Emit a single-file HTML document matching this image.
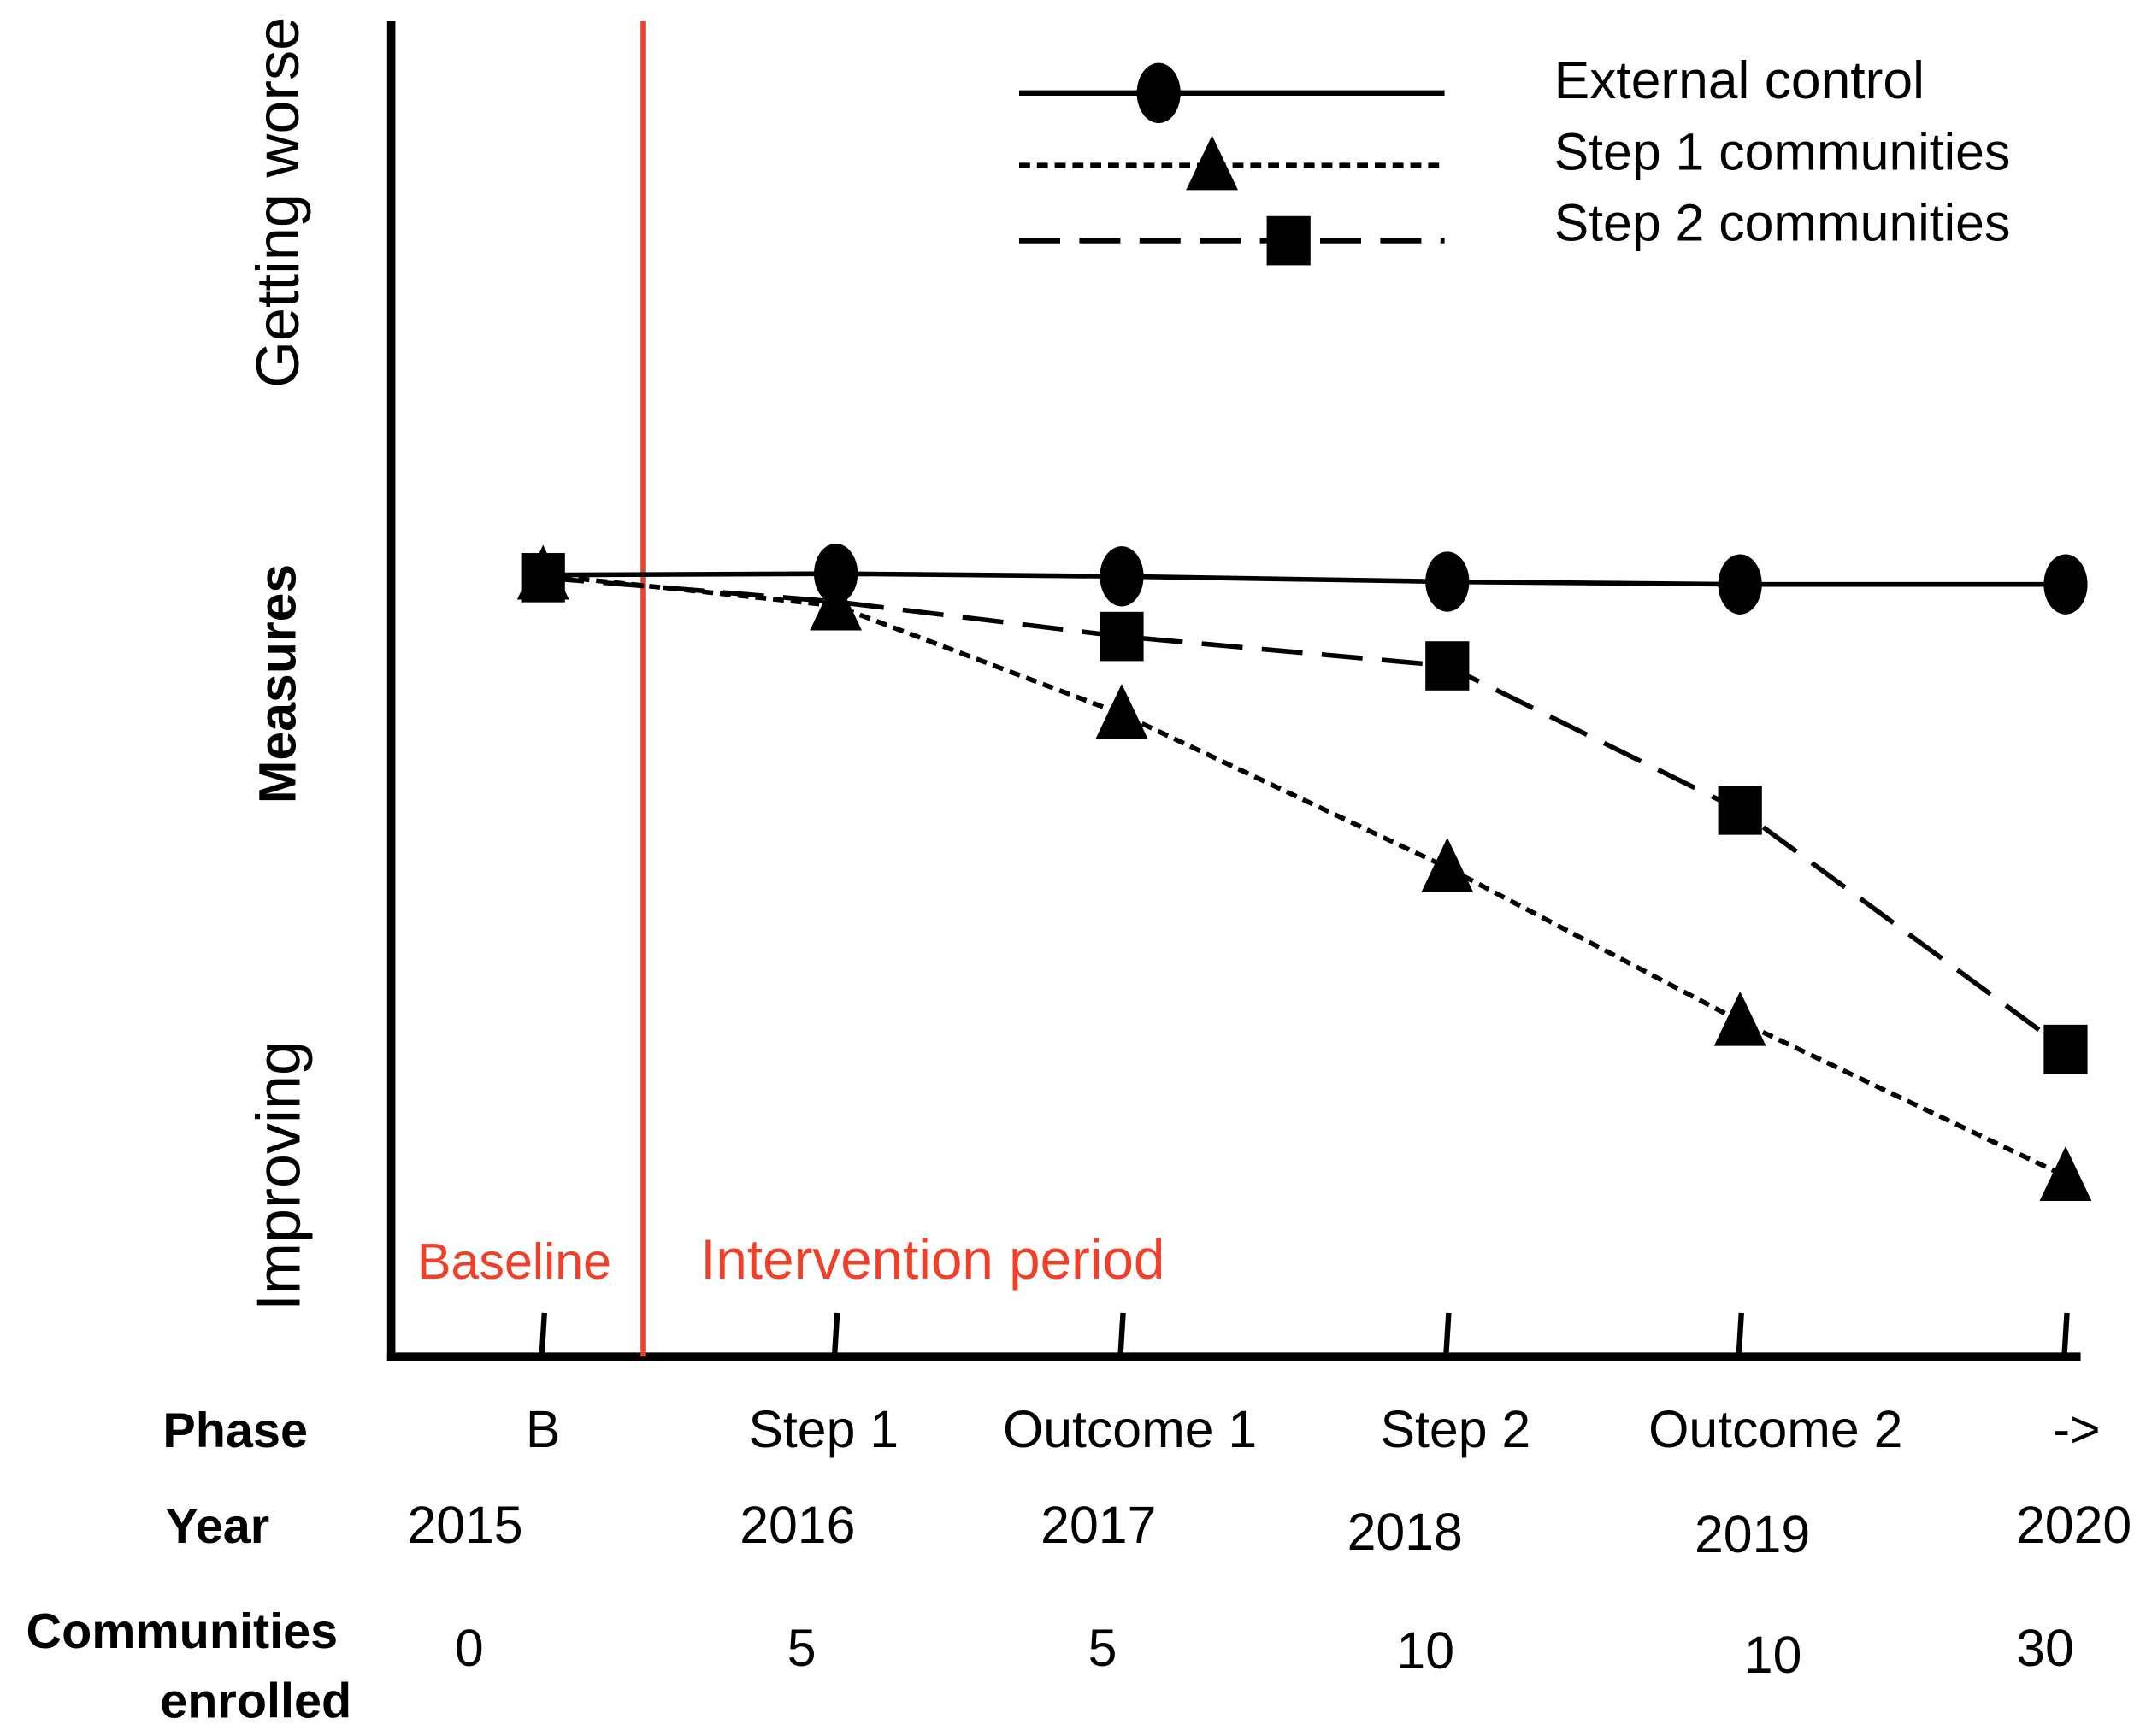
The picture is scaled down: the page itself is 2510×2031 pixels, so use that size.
<!DOCTYPE html>
<html><head><meta charset="utf-8"><style>
html,body{margin:0;padding:0;background:#fff;}
svg{display:block;}
text{font-family:"Liberation Sans Narrow","Liberation Sans",sans-serif;fill:#000;}
</style></head><body>
<svg id="chart" width="2510" height="2031" viewBox="0 0 1568.75 1269.4" xmlns="http://www.w3.org/2000/svg">
<g id="plot"></g>
</svg>
<script>
const categories = ["B","Step 1","Outcome 1","Step 2","Outcome 2","->"];
const years = ["2015","2016","2017","2018","2019","2020"];
const communities = ["0","5","5","10","10","30"];
const externalControl = [58.5,58.6,58.4,58.0,57.8,57.8];
const step1Values = [58.5,56.2,48.1,36.6,25.1,13.5];
const step2Values = [58.3,56.5,53.9,51.7,40.9,23.0];
const step2Markers = [true,false,true,true,true,true];

const NS="http://www.w3.org/2000/svg";
const g=document.getElementById('plot');
const tickX=[397,611,820,1058,1272,1510];
function xScale(i){return tickX[i];}
function yScale(v){return 992 - v*9.77;}
function mk(tag,attrs,parent){const e=document.createElementNS(NS,tag);for(const k in attrs)e.setAttribute(k,attrs[k]);(parent||g).appendChild(e);return e;}
function txt(s,x,y,size,opts){const e=mk('text',Object.assign({x:x,y:y,'font-size':size},opts||{}));e.textContent=s;return e;}

let e=mk('line',{x1:286,y1:15,x2:286,y2:995,stroke:'#000','stroke-width':6});


e=mk('line',{x1:283,y1:992,x2:1521,y2:992,stroke:'#000','stroke-width':6});


tickX.forEach((x,i)=>{const t=mk('line',{x1:x-1,y1:992,x2:x+1,y2:960,stroke:'#000','stroke-width':4});

});
e=mk('line',{x1:470,y1:15,x2:470,y2:992,stroke:'#f0402a','stroke-width':3.5});



e=txt('Getting worse',0,0,44,{transform:'translate(218,148) rotate(-90)','text-anchor':'middle'});


e=txt('Measures',0,0,38,{transform:'translate(216,500) rotate(-90)','text-anchor':'middle','font-weight':'bold'});


e=txt('Improving',0,0,45,{transform:'translate(219,860) rotate(-90)','text-anchor':'middle'});



e=txt('Baseline',305,935,37,{style:'fill:#f0402a'});


e=txt('Intervention period',512,935,41,{style:'fill:#f0402a'});



function pathFor(vals){return vals.map((v,i)=>(i?'L':'M')+xScale(i)+','+yScale(v)).join(' ');}
function circle(cx,cy,name){const c=mk('ellipse',{cx:cx,cy:cy,rx:16,ry:22,fill:'#000'});}
function tri(cx,cy,name){const t=mk('polygon',{points:(cx-19)+','+(cy+18)+' '+(cx+19)+','+(cy+18)+' '+cx+','+(cy-22),fill:'#000'});}
function sq(cx,cy,name){const s=mk('rect',{x:cx-16,y:cy-18,width:32,height:36,fill:'#000'});}

e=mk('path',{d:pathFor(step2Values),fill:'none',stroke:'#000','stroke-width':3.5,'stroke-dasharray':'30 14'});


e=mk('path',{d:pathFor(step1Values),fill:'none',stroke:'#000','stroke-width':3.5,'stroke-dasharray':'8 5'});


e=mk('path',{d:pathFor(externalControl),fill:'none',stroke:'#000','stroke-width':3.5});



externalControl.forEach((v,i)=>{ if(i>0) circle(xScale(i),yScale(v),'external-control-point'); });
step1Values.forEach((v,i)=>tri(xScale(i),yScale(v),'step1-point'));
step2Values.forEach((v,i)=>{ if(step2Markers[i]) sq(xScale(i),yScale(v),'step2-point'); });

const ly=[68,121,176];
e=mk('line',{x1:745,y1:ly[0],x2:1056,y2:ly[0],stroke:'#000','stroke-width':4});


circle(847,ly[0],'legend-marker-external');
e=mk('line',{x1:745,y1:ly[1],x2:1056,y2:ly[1],stroke:'#000','stroke-width':4,'stroke-dasharray':'8 5'});


tri(886,ly[1],'legend-marker-step1');
e=mk('line',{x1:745,y1:ly[2],x2:1056,y2:ly[2],stroke:'#000','stroke-width':4,'stroke-dasharray':'30 14'});


sq(942,ly[2],'legend-marker-step2');
e=txt('External control',1136,72,39);


e=txt('Step 1 communities',1136,124,38);


e=txt('Step 2 communities',1136,176,38);



e=txt('Phase',225,1058,36,{'text-anchor':'end','font-weight':'bold'});


e=txt('Year',197,1128,36,{'text-anchor':'end','font-weight':'bold'});


e=txt('Communities',247,1205,36,{'text-anchor':'end','font-weight':'bold'});


e=txt('enrolled',257,1256,36,{'text-anchor':'end','font-weight':'bold'});


const phaseX=[397,602,826,1064,1298,1518];
const yearX=[340,583,803,1027,1281,1516];
const yearY=[1128,1128,1128,1133,1135,1128];
const comX=[343,586,806,1042,1296,1495];
const comY=[1218,1218,1218,1220,1223,1218];
categories.forEach((c,i)=>{const t=txt(c,phaseX[i],1058,38,{'text-anchor':'middle'});

});
years.forEach((c,i)=>{const t=txt(c,yearX[i],yearY[i],38,{'text-anchor':'middle'});

});
communities.forEach((c,i)=>{const t=txt(c,comX[i],comY[i],38,{'text-anchor':'middle'});

});
</script>
</body></html>
